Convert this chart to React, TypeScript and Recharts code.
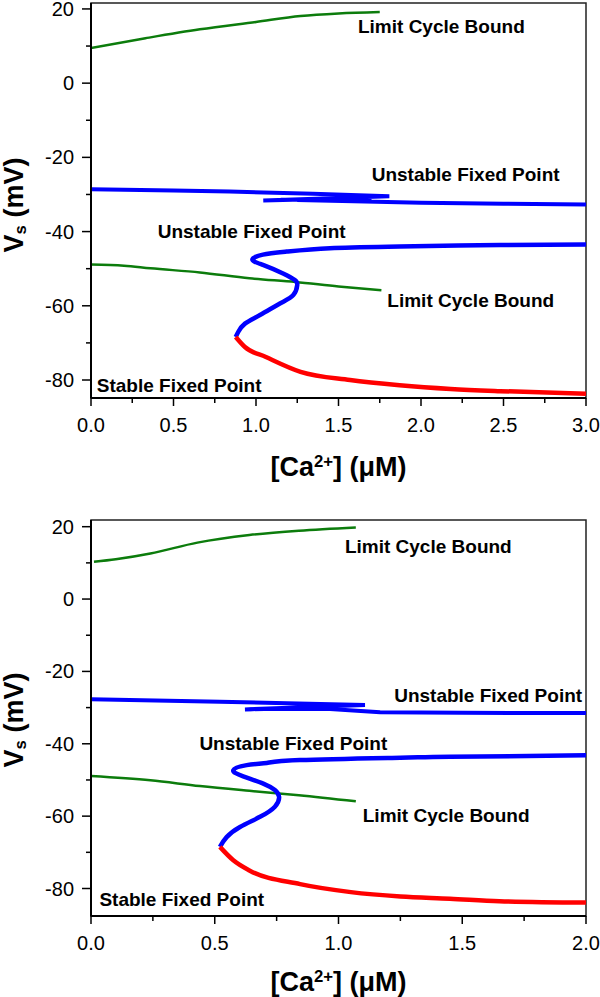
import React from 'react'
import { LineChart, Line, XAxis, YAxis, ReferenceArea, ReferenceDot } from 'recharts'

const FONT = '"Liberation Sans", Arial, Helvetica, sans-serif'

// ticks
const xTicksTop = [0, 0.25, 0.5, 0.75, 1, 1.25, 1.5, 1.75, 2, 2.25, 2.5, 2.75, 3]
const xTicksBottom = [0, 0.25, 0.5, 0.75, 1, 1.25, 1.5, 1.75, 2]
const vTicks = [-80, -70, -60, -50, -40, -30, -20, -10, 0, 10, 20]

// top panel curves: [Ca2+ (uM), Vs (mV)]
const limitHighTop = [[0, 9.5], [0.33, 12.1], [0.66, 14.5], [1.0, 16.5], [1.27, 18.1], [1.5, 18.8], [1.75, 19.2]]
const limitLowTop = [[0, -48.9], [0.2, -49.2], [0.36, -49.9], [0.66, -51.0], [0.96, -52.6], [1.24, -53.6], [1.5, -54.8], [1.76, -55.8]]
const unstableHighTop = [
  [0, -28.6], [0.5, -28.9], [0.84, -29.2], [1.345, -29.8], [1.808, -30.5], [1.044, -31.6],
  [1.7, -30.9], [1.15, -31.4], [1.6, -31.1], [1.25, -31.5], [2.0, -32.2], [2.5, -32.5], [3.0, -32.7],
]
const unstableLowTop = [
  [3.0, -43.5], [2.48, -43.6], [1.87, -44.05], [1.448, -44.5], [1.186, -45.4], [1.042, -46.2],
  [0.978, -47.5], [1.042, -49.0], [1.164, -51.3], [1.236, -53.1], [1.25, -54.4], [1.226, -57.1],
  [1.145, -59.4], [1.024, -62.5], [0.933, -64.8], [0.893, -67.0], [0.877, -68.4],
]
const stableTop = [[0.877, -68.4], [0.933, -71.1], [1.06, -73.8], [1.27, -77.8], [1.57, -80.0], [1.87, -81.4], [2.18, -82.4], [2.48, -83.0], [3.0, -83.7]]

// bottom panel curves
const limitHighBottom = [[0.012, 10.3], [0.1, 11.0], [0.24, 12.6], [0.43, 15.6], [0.64, 17.7], [0.84, 18.9], [1.07, 19.8]]
const limitLowBottom = [[0, -48.9], [0.24, -50.1], [0.44, -51.7], [0.64, -53.0], [0.84, -54.2], [1.07, -55.9]]
const unstableHighBottom = [
  [0, -27.7], [0.521, -28.4], [1.107, -29.3], [0.622, -30.5], [1.0, -29.9], [0.72, -30.4],
  [0.95, -30.3], [1.168, -31.3], [1.5, -31.45], [2.0, -31.5],
]
const unstableLowBottom = [
  [2.0, -43.2], [1.45, -43.6], [1.25, -43.85], [0.844, -44.5], [0.71, -45.3], [0.629, -45.9],
  [0.575, -47.3], [0.615, -49.0], [0.696, -51.0], [0.743, -52.8], [0.76, -54.7], [0.743, -57.4],
  [0.683, -60.2], [0.602, -63.0], [0.548, -65.8], [0.521, -68.5],
]
const stableBottom = [[0.521, -68.5], [0.575, -72.2], [0.64, -75.0], [0.845, -78.8], [1.05, -81.0], [1.25, -82.2], [1.45, -82.8], [1.65, -83.5], [2.0, -83.9]]

// annotations
const notesTop = [
  { ca: 1.618, v: 15.4, text: 'Limit Cycle Bound' },
  { ca: 1.701, v: -24.5, text: 'Unstable Fixed Point' },
  { ca: 0.404, v: -40.0, text: 'Unstable Fixed Point' },
  { ca: 1.796, v: -58.6, text: 'Limit Cycle Bound' },
  { ca: 0.035, v: -81.4, text: 'Stable Fixed Point' },
]
const notesBottom = [
  { ca: 1.026, v: 14.7, text: 'Limit Cycle Bound' },
  { ca: 1.225, v: -26.6, text: 'Unstable Fixed Point' },
  { ca: 0.438, v: -39.8, text: 'Unstable Fixed Point' },
  { ca: 1.098, v: -59.75, text: 'Limit Cycle Bound' },
  { ca: 0.034, v: -83.1, text: 'Stable Fixed Point' },
]

const GREEN = '#0c7c0c'
const BLUE = '#0000ff'
const RED = '#ff0000'

type Curve = 'linear' | 'natural' | 'monotone'
const seriesStyle = (pts: number[][], color: string, w: number, curve: Curve) => ({ pts, color, w, curve })

const topSeries = [
  seriesStyle(limitHighTop, GREEN, 2.5, 'monotone'),
  seriesStyle(limitLowTop, GREEN, 2.5, 'monotone'),
  seriesStyle(unstableHighTop, BLUE, 4, 'linear'),
  seriesStyle(unstableLowTop, BLUE, 4.5, 'natural'),
  seriesStyle(stableTop, RED, 4.5, 'monotone'),
]
const bottomSeries = [
  seriesStyle(limitHighBottom, GREEN, 2.5, 'monotone'),
  seriesStyle(limitLowBottom, GREEN, 2.5, 'monotone'),
  seriesStyle(unstableHighBottom, BLUE, 4, 'linear'),
  seriesStyle(unstableLowBottom, BLUE, 4.5, 'natural'),
  seriesStyle(stableBottom, RED, 4.5, 'monotone'),
]

const YTick = (props: any) => {
  const { x, y, payload } = props
  const major = payload.value % 20 === 0
  return (
    <g>
      <line x1={x - (major ? 9 : 5)} x2={x} y1={y} y2={y} stroke="#000" strokeWidth={1.5} />
      {major && (
        <text x={x - 17} y={y + 7} textAnchor="end" fontSize={20} fontFamily={FONT} fill="#000">
          {payload.value}
        </text>
      )}
    </g>
  )
}

const XTick = (props: any) => {
  const { x, y, payload } = props
  const v = payload.value
  const major = Math.abs(v * 2 - Math.round(v * 2)) < 1e-6
  return (
    <g>
      <line x1={x} x2={x} y1={y} y2={y + (major ? 8 : 5)} stroke="#000" strokeWidth={1.5} />
      {major && (
        <text x={x} y={y + 34} textAnchor="middle" fontSize={20} fontFamily={FONT} fill="#000">
          {v.toFixed(1)}
        </text>
      )}
    </g>
  )
}

interface PanelProps {
  height: number
  top: number
  bottom: number
  xMax: number
  yDomain: [number, number]
  xTicks: number[]
  series: { pts: number[][]; color: string; w: number; curve: Curve }[]
  notes: { ca: number; v: number; text: string }[]
}

function Panel({ height, top, bottom, xMax, yDomain, xTicks, series, notes }: PanelProps) {
  return (
    <LineChart width={600} height={height} margin={{ top, right: 14, bottom, left: 31 }}>
      <XAxis
        type="number"
        dataKey="ca"
        domain={[0, xMax]}
        ticks={xTicks}
        interval={0}
        allowDataOverflow
        height={30}
        tickSize={0}
        tickMargin={0}
        tickLine={false}
        axisLine={{ stroke: '#000', strokeWidth: 2 }}
        tick={<XTick />}
      />
      <YAxis
        type="number"
        domain={yDomain}
        ticks={vTicks}
        interval={0}
        allowDataOverflow
        width={60}
        tickSize={0}
        tickMargin={0}
        tickLine={false}
        axisLine={{ stroke: '#000', strokeWidth: 2 }}
        tick={<YTick />}
      />
      <ReferenceArea x1={0} x2={xMax} y1={yDomain[0]} y2={yDomain[1]} fill="none" stroke="#222" strokeWidth={1.5} ifOverflow="visible" />
      {series.map((s, i) => (
        <Line
          key={i}
          data={s.pts.map(([ca, v]) => ({ ca, v }))}
          dataKey="v"
          type={s.curve}
          stroke={s.color}
          strokeWidth={s.w}
          dot={false}
          activeDot={false}
          isAnimationActive={false}
        />
      ))}
      {notes.map((n, i) => (
        <ReferenceDot
          key={'n' + i}
          x={n.ca}
          y={n.v}
          r={0}
          fill="none"
          stroke="none"
          ifOverflow="visible"
          label={{ value: n.text, position: 'right', offset: 0, fill: '#000', fontSize: 19, fontWeight: 700, fontFamily: FONT }}
        />
      ))}
    </LineChart>
  )
}

const XTitle = ({ top }: { top: number }) => (
  <div style={{ position: 'absolute', left: 91, width: 495, top, height: 32, lineHeight: '32px', textAlign: 'center', fontSize: 27, fontWeight: 700, fontFamily: FONT, color: '#000' }}>
    [Ca<sup style={{ fontSize: '0.62em', verticalAlign: '0.55em', lineHeight: 0 }}>2+</sup>] (μM)
  </div>
)

const YTitle = ({ cy }: { cy: number }) => (
  <div style={{ position: 'absolute', left: 14 - 100, width: 200, top: cy - 16, height: 32, lineHeight: '32px', textAlign: 'center', fontSize: 27, fontWeight: 700, fontFamily: FONT, color: '#000', transform: 'rotate(-90deg)' }}>
    V<sub style={{ fontSize: '0.62em', verticalAlign: '-0.2em', lineHeight: 0 }}>s</sub> (mV)
  </div>
)

export default function App() {
  return (
    <div style={{ position: 'absolute', left: 0, top: 0, width: 600, height: 997, background: '#fff', overflow: 'hidden' }}>
      <div style={{ position: 'absolute', left: 0, top: 1 }}>
        <Panel height={494} top={2} bottom={67} xMax={3} yDomain={[-84.85, 21.6]} xTicks={xTicksTop} series={topSeries} notes={notesTop} />
      </div>
      <div style={{ position: 'absolute', left: 0, top: 495 }}>
        <Panel height={502} top={25} bottom={51} xMax={2} yDomain={[-87.6, 21.85]} xTicks={xTicksBottom} series={bottomSeries} notes={notesBottom} />
      </div>
      <XTitle top={451} />
      <XTitle top={966} />
      <YTitle cy={205} />
      <YTitle cy={720} />
    </div>
  )
}
